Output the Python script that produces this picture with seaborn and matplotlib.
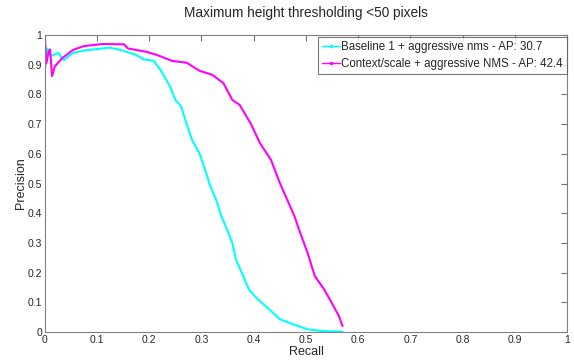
import matplotlib
matplotlib.use("Agg")
import matplotlib.pyplot as plt
import seaborn as sns
import pandas as pd
import numpy as np
from matplotlib.lines import Line2D

# Precision / recall points
base_recall = [0.0, 0.0, 0.005, 0.012, 0.026, 0.036, 0.054, 0.075, 0.124, 0.145,
               0.173, 0.190, 0.208, 0.222, 0.240, 0.250, 0.261, 0.272, 0.282, 0.296,
               0.307, 0.317, 0.328, 0.338, 0.349, 0.359, 0.366, 0.377, 0.391, 0.405,
               0.426, 0.450, 0.475, 0.503, 0.531, 0.570]
base_precision = [0.80, 0.88, 0.955, 0.93, 0.94, 0.916, 0.94, 0.948, 0.958, 0.95,
                  0.935, 0.918, 0.914, 0.882, 0.826, 0.782, 0.76, 0.698, 0.647, 0.602,
                  0.546, 0.49, 0.446, 0.39, 0.345, 0.30, 0.244, 0.20, 0.143, 0.115,
                  0.082, 0.043, 0.026, 0.009, 0.003, 0.001]

ctx_recall = [0.0, 0.003, 0.007, 0.010, 0.014, 0.019, 0.033, 0.054, 0.075, 0.110,
              0.152, 0.159, 0.194, 0.215, 0.244, 0.272, 0.296, 0.321, 0.342, 0.359,
              0.373, 0.394, 0.412, 0.433, 0.450, 0.464, 0.478, 0.489, 0.503, 0.517,
              0.535, 0.549, 0.563, 0.570]
ctx_precision = [1.0, 0.905, 0.94, 0.952, 0.862, 0.894, 0.922, 0.95, 0.963, 0.97,
                 0.969, 0.955, 0.944, 0.933, 0.913, 0.907, 0.88, 0.866, 0.838, 0.782,
                 0.765, 0.703, 0.636, 0.58, 0.502, 0.446, 0.39, 0.334, 0.267, 0.188,
                 0.143, 0.099, 0.054, 0.02]

labels = ["Baseline 1 + aggressive nms - AP: 30.7",
          "Context/scale + aggressive NMS - AP: 42.4"]
colors = ["#00ffff", "#ff00ff"]

df = pd.concat([
    pd.DataFrame({"recall": base_recall, "precision": base_precision, "method": labels[0]}),
    pd.DataFrame({"recall": ctx_recall, "precision": ctx_precision, "method": labels[1]}),
], ignore_index=True)

sns.set_style("white")
plt.rcParams["font.family"] = ["Liberation Sans", "DejaVu Sans"]

fig = plt.figure(figsize=(5.74, 3.62), dpi=100)
ax = fig.add_axes([0.078, 0.083, 0.91, 0.82])

sns.lineplot(data=df, x="recall", y="precision", hue="method", palette=colors,
             estimator=None, sort=False, linewidth=1.5, legend=False, ax=ax)

ax.set_xlim(0, 1)
ax.set_ylim(0, 1)
ticks = np.round(np.arange(0, 1.01, 0.1), 1)
tick_labels = ["0"] + [f"{t:g}" for t in ticks[1:-1]] + ["1"]
ax.set_xticks(ticks)
ax.set_xticklabels(tick_labels)
ax.set_yticks(ticks)
ax.set_yticklabels(tick_labels)
ax.tick_params(direction="in", length=4, width=0.8, color="#707070",
               top=True, right=True, labelsize=7.5, pad=2)

for s in ax.spines.values():
    s.set_color("#808080")
    s.set_linewidth(0.8)

ax.set_xlabel("Recall", fontsize=9, labelpad=1)
ax.set_ylabel("Precision", fontsize=9, labelpad=0)
ax.set_title("Maximum height thresholding <50 pixels", fontsize=9.8, pad=13)

handles = [Line2D([0], [0], color=c, lw=1, marker=".", markersize=3) for c in colors]
leg = ax.legend(handles, labels, loc="upper right", bbox_to_anchor=(1.0, 1 - 2 / 297),
                fontsize=8.3, frameon=True, fancybox=False, borderaxespad=0,
                handlelength=1.6, handletextpad=0.1, borderpad=0.35, labelspacing=0.45)
leg.get_frame().set_edgecolor("#555555")
leg.get_frame().set_linewidth(0.8)

fig.savefig("out.png", dpi=100)
